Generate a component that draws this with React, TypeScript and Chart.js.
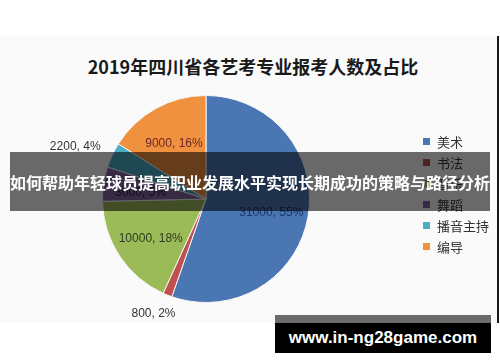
import React, { useEffect, useRef } from "react";
import { Chart, registerables } from "chart.js";

Chart.register(...registerables);

const titleText = "2019年四川省各艺考专业报考人数及占比";
const categories = ["美术", "书法", "音乐", "舞蹈", "播音主持", "编导"];
const counts = [31000, 800, 10000, 3000, 2200, 9000];
const percents = [55, 2, 18, 5, 4, 16];
const sliceColors = ["#4A76B4", "#C0504D", "#9BBB59", "#8064A2", "#4BACC6", "#F0913F"];
const labelColors = ["#1F3566", "#333333", "#2E3A1E", "#2A2040", "#333333", "#6E2626"];
const bannerText = "如何帮助年轻球员提高职业发展水平实现长期成功的策略与路径分析";
const watermarkText = "www.in-ng28game.com";

const labelPlugin = {
  id: "sliceLabels",
  afterDatasetsDraw(chart: any) {
    const ctx = chart.ctx;
    const meta = chart.getDatasetMeta(0);
    const total = counts.reduce((a, b) => a + b, 0);
    ctx.save();
    ctx.font = "12px 'Liberation Sans', Arial, sans-serif";
    ctx.textAlign = "center";
    ctx.textBaseline = "middle";
    meta.data.forEach((arc: any, i: number) => {
      const p = arc.getProps(["x", "y", "startAngle", "endAngle", "outerRadius"], true);
      const mid = (p.startAngle + p.endAngle) / 2;
      const share = counts[i] / total;
      const text = `${counts[i]}, ${percents[i]}%`;
      let px: number;
      let py: number;
      if (share < 0.045) {
        const w = ctx.measureText(text).width;
        px = p.x + Math.cos(mid) * p.outerRadius * 1.15 + (w / 2) * Math.cos(mid);
        py = p.y + Math.sin(mid) * p.outerRadius * 1.15 + 5 * Math.sin(mid);
      } else {
        px = p.x + Math.cos(mid) * p.outerRadius * 0.64;
        py = p.y + Math.sin(mid) * p.outerRadius * 0.64 + 3;
      }
      ctx.fillStyle = labelColors[i];
      ctx.fillText(text, px, py);
    });
    ctx.restore();
  },
};

export default function App() {
  const canvasRef = useRef<HTMLCanvasElement>(null);

  useEffect(() => {
    document.body.style.margin = "0";
    const chart = new Chart(canvasRef.current as HTMLCanvasElement, {
      type: "pie",
      data: {
        labels: categories,
        datasets: [
          {
            data: counts,
            backgroundColor: sliceColors,
            borderColor: "#f4f4f4",
            borderWidth: 1,
          },
        ],
      },
      options: {
        responsive: false,
        maintainAspectRatio: false,
        devicePixelRatio: 1,
        animation: false,
        layout: { padding: { left: 102, right: 190, top: 95, bottom: 59 } },
        plugins: {
          legend: { display: false },
          title: { display: false },
          tooltip: { enabled: false },
        },
      },
      plugins: [labelPlugin],
    });
    return () => chart.destroy();
  }, []);

  return (
    <div style={{ position: "fixed", left: 0, top: 0, width: 500, height: 362, background: "#ffffff", overflow: "hidden" }}>
      <div style={{ position: "absolute", left: 0, top: 36, width: 497, height: 287, background: "#fafafa" }} />
      <div style={{ position: "absolute", left: 497, top: 36, width: 2, height: 287, background: "#1a1a1a" }} />
      <div
        style={{
          position: "absolute",
          left: 0,
          top: 55,
          width: 506,
          textAlign: "center",
          font: "bold 18px 'Noto Sans CJK SC', sans-serif",
          lineHeight: "22px",
          color: "#1a1a1a",
          whiteSpace: "nowrap",
        }}
      >
        {titleText}
      </div>
      <canvas ref={canvasRef} width={500} height={362} style={{ position: "absolute", left: 0, top: 0, width: 500, height: 362 }} />
      {categories.map((c, i) => (
        <div
          key={c}
          style={{
            position: "absolute",
            left: 423,
            top: 141 + 21 * i - 10,
            height: 20,
            display: "flex",
            alignItems: "center",
            font: "13px 'Noto Sans CJK SC', sans-serif",
            color: "#333",
            whiteSpace: "nowrap",
          }}
        >
          <span style={{ display: "inline-block", width: 7, height: 7, background: sliceColors[i], marginRight: 7 }} />
          {c}
        </div>
      ))}
      <div
        style={{
          position: "absolute",
          left: 10,
          top: 152,
          width: 480,
          height: 59,
          background: "rgba(0,0,0,0.58)",
          color: "#fff",
          font: "bold 16px 'Noto Sans CJK SC', sans-serif",
          display: "flex",
          alignItems: "center",
          justifyContent: "center",
          whiteSpace: "nowrap",
        }}
      >
        {bannerText}
      </div>
      <div style={{ position: "absolute", left: 275, top: 315, width: 216, height: 8, background: "#6b6b6b" }} />
      <div
        style={{
          position: "absolute",
          left: 275,
          top: 323,
          width: 216,
          height: 30,
          background: "#000",
          color: "#fff",
          font: "bold 17px 'Liberation Sans', Arial, sans-serif",
          display: "flex",
          alignItems: "center",
          justifyContent: "center",
          whiteSpace: "nowrap",
        }}
      >
        {watermarkText}
      </div>
    </div>
  );
}
